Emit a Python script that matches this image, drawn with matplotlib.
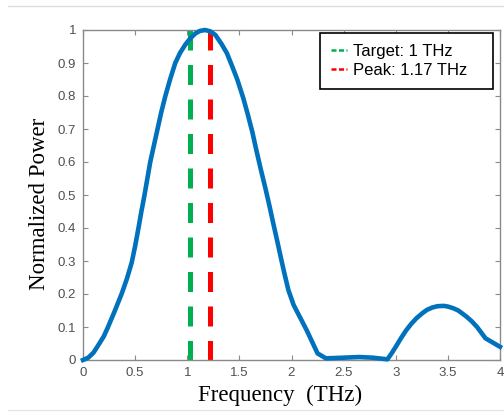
import matplotlib
matplotlib.use("Agg")
import matplotlib.pyplot as plt
from matplotlib.lines import Line2D

# values
freq = [0.0, 0.05, 0.1, 0.147, 0.2, 0.24, 0.3, 0.37, 0.42, 0.467, 0.5, 0.535,
        0.56, 0.59, 0.645, 0.68, 0.715, 0.75, 0.79, 0.835, 0.885, 0.93, 0.98,
        1.03, 1.08, 1.12, 1.17, 1.22, 1.27, 1.33, 1.38, 1.426, 1.48, 1.538,
        1.58, 1.625, 1.66, 1.70, 1.75, 1.79, 1.825, 1.86, 1.896, 1.93, 1.97,
        2.02, 2.146, 2.25, 2.33, 2.5, 2.65, 2.78, 2.92, 2.96, 3.0, 3.05, 3.1,
        3.15, 3.2, 3.26, 3.3, 3.35, 3.4, 3.46, 3.5, 3.55, 3.6, 3.68, 3.73,
        3.78, 3.86, 4.0]
power = [0.0, 0.007, 0.022, 0.045, 0.072, 0.1, 0.145, 0.2, 0.245, 0.295, 0.345, 0.405,
         0.45, 0.5, 0.6, 0.65, 0.7, 0.75, 0.8, 0.85, 0.9, 0.93, 0.955,
         0.975, 0.99, 0.997, 1.0, 0.996, 0.985, 0.957, 0.93, 0.894, 0.85, 0.793,
         0.745, 0.69, 0.64, 0.585, 0.52, 0.465, 0.414, 0.365, 0.313, 0.265, 0.212,
         0.167, 0.09, 0.02, 0.005, 0.007, 0.009, 0.007, 0.002, 0.02, 0.04, 0.066, 0.09,
         0.11, 0.127, 0.143, 0.152, 0.159, 0.163, 0.164, 0.162, 0.157, 0.15, 0.131, 0.117,
         0.1, 0.066, 0.04]

target_pos = 1.025   # drawn position of the target marker
peak_pos = 1.22      # drawn position of the peak marker
legend_labels = ["Target: 1 THz", "Peak: 1.17 THz"]
xticks = [0, 0.5, 1, 1.5, 2, 2.5, 3, 3.5, 4]
xticklabels = ["0", "0.5", "1", "1.5", "2", "2.5", "3", "3.5", "4"]
yticks = [0, 0.1, 0.2, 0.3, 0.4, 0.5, 0.6, 0.7, 0.8, 0.9, 1]
yticklabels = ["0", "0.1", "0.2", "0.3", "0.4", "0.5", "0.6", "0.7", "0.8", "0.9", "1"]

blue = "#0072BD"
green = "#00B050"
red = "#FF0000"
grey = "#8a8a8a"

fig = plt.figure(figsize=(5.04, 4.17), dpi=100)
ax = fig.add_axes([83 / 504, 57 / 417, 417 / 504, 330 / 417])

# screenshot frame lines
fig.add_artist(Line2D([8 / 504, 1], [1 - 6 / 417] * 2, color="#dcdcdc", lw=1))
fig.add_artist(Line2D([8 / 504, 1], [1 - 410 / 417] * 2, color="#e6e6e6", lw=1))

ax.plot([target_pos, target_pos], [1, 0], color=green, lw=3.6,
        linestyle=(0, (4, 2.9)))
ax.plot([peak_pos, peak_pos], [1, 0], color=red, lw=3.6,
        linestyle=(0, (4, 2.9)))
ax.plot(freq, power, color=blue, lw=3.3, clip_on=False, zorder=3,
        solid_joinstyle="round")

ax.set_xlim(0, 4)
ax.set_ylim(0, 1)
ax.set_xticks(xticks)
ax.set_xticklabels(xticklabels)
ax.set_yticks(yticks)
ax.set_yticklabels(yticklabels)

for s in ax.spines.values():
    s.set_color(grey)
    s.set_linewidth(1.0)
ax.tick_params(direction="in", length=3.5, width=0.8, color=grey,
               top=True, right=True, labelsize=9.5, labelcolor="#505050", pad=5)
for lab in ax.get_xticklabels() + ax.get_yticklabels():
    lab.set_family("Liberation Sans")

ax.set_xlabel("Frequency  (THz)", family="Liberation Serif", fontsize=16.5)
ax.set_ylabel("Normalized Power", family="Liberation Serif", fontsize=16.5)
ax.xaxis.set_label_coords((280 - 83) / 417, -0.076)
ax.yaxis.set_label_coords(-0.078, (360 - 204) / 330)

handles = [Line2D([], [], color=green, lw=1.8, linestyle=(0, (2, 1))),
           Line2D([], [], color=red, lw=1.8, linestyle=(0, (2, 1)))]
leg_x0 = (320 - 83) / 417
leg_w = (493 - 320) / 417
leg = ax.legend(handles, legend_labels, loc="upper left",
                bbox_to_anchor=(leg_x0, 0, leg_w, 0.991), mode="expand",
                borderaxespad=0,
                fancybox=False, framealpha=1, edgecolor="black",
                prop={"family": "Liberation Sans", "size": 12},
                handlelength=1.0, handletextpad=0.35, labelspacing=0.28,
                borderpad=0.64)
leg.get_frame().set_linewidth(1.2)

fig.savefig("out.png", dpi=100)
